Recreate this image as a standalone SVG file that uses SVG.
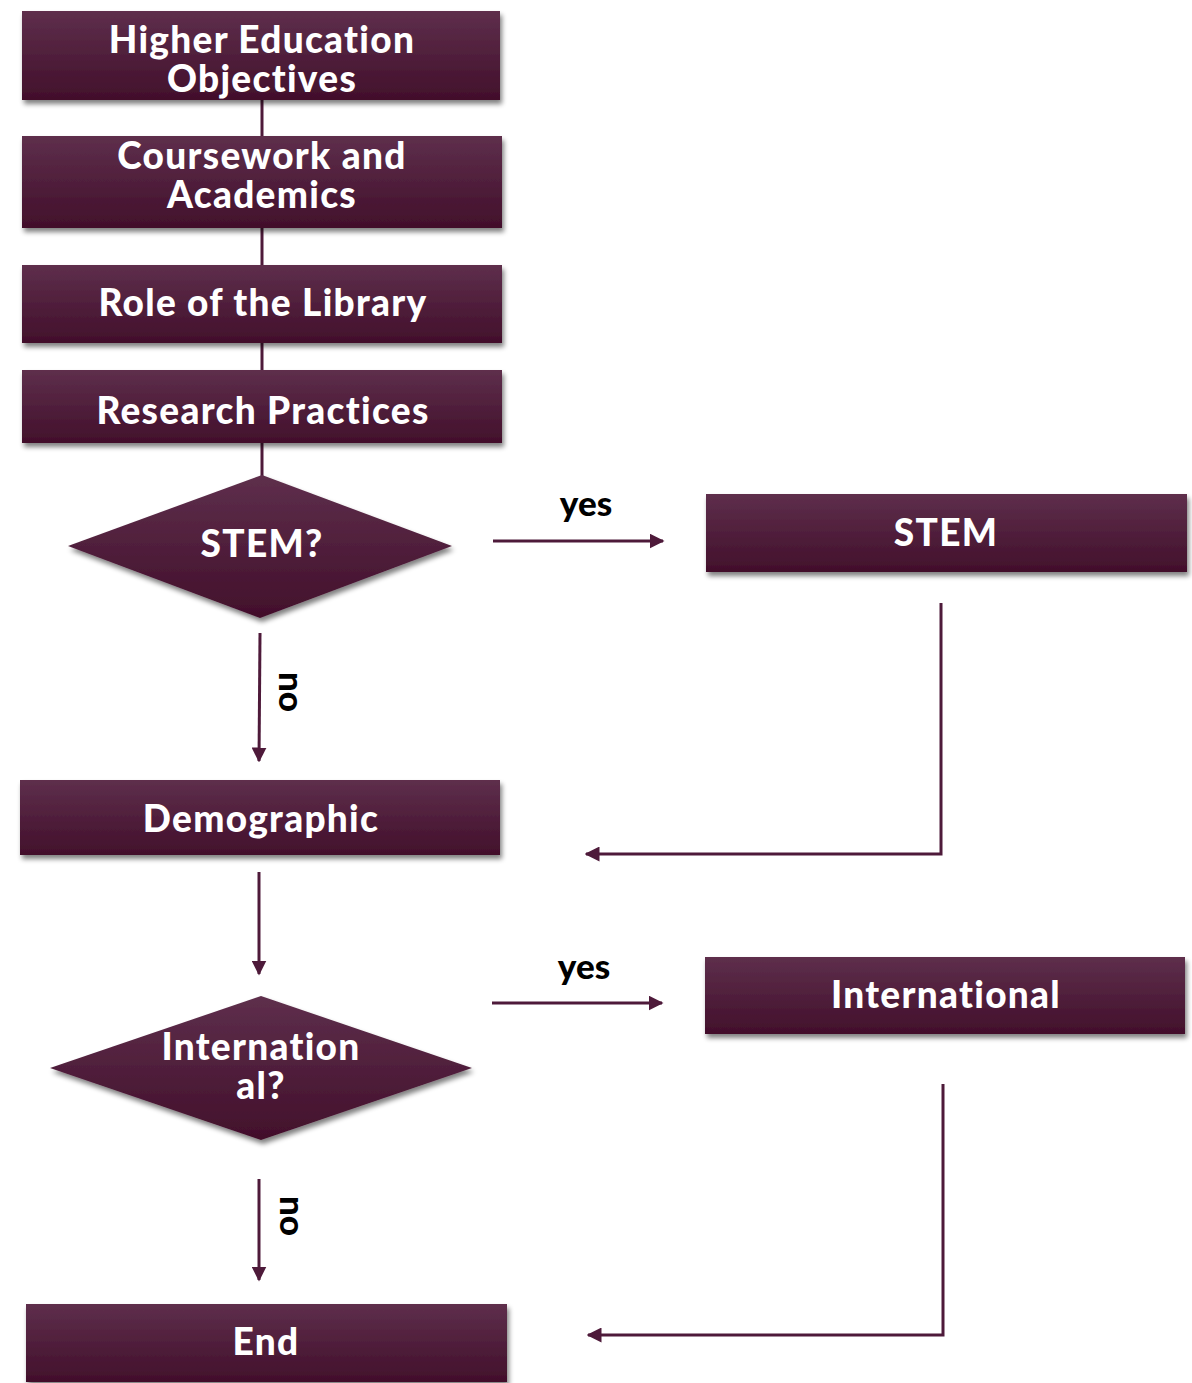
<svg xmlns="http://www.w3.org/2000/svg" width="1192" height="1383" viewBox="0 0 1192 1383">
<defs>
<linearGradient id="g" x1="0" y1="0" x2="0" y2="1">
<stop offset="0" stop-color="#5e2f4c"/>
<stop offset="1" stop-color="#420f2b"/>
</linearGradient>
<filter id="sh" x="-10%" y="-10%" width="125%" height="140%">
<feGaussianBlur in="SourceAlpha" stdDeviation="2.5"/>
<feOffset dx="2" dy="4" result="b"/>
<feComponentTransfer><feFuncA type="linear" slope="0.5"/></feComponentTransfer>
<feMerge><feMergeNode/><feMergeNode in="SourceGraphic"/></feMerge>
</filter>
<marker id="ah" viewBox="0 0 10 10" refX="9" refY="5" markerWidth="5" markerHeight="5" orient="auto" markerUnits="strokeWidth">
<path d="M0,0 L10,5 L0,10 z" fill="#4e1a3a"/>
</marker>
</defs>
<style>
.box{fill:url(#g);filter:url(#sh)}
.t{font-family:Lato,"Open Sans","Liberation Sans",sans-serif;font-weight:900;font-size:37px;letter-spacing:1.3px;fill:#fff;text-anchor:middle}
.lbl{font-family:Lato,"Open Sans","Liberation Sans",sans-serif;font-weight:900;font-size:35px;fill:#000;text-anchor:middle}
.ln{stroke:#4e1a3a;stroke-width:3;fill:none}
.ar{stroke:#4e1a3a;stroke-width:3;fill:none;marker-end:url(#ah)}
</style>
<rect width="1192" height="1383" fill="#fff"/>
<g id="connectors">
<line class="ln" x1="262" y1="100" x2="262" y2="136"/>
<line class="ln" x1="262" y1="228" x2="262" y2="265"/>
<line class="ln" x1="262" y1="343" x2="262" y2="370"/>
<line class="ln" x1="262" y1="443" x2="262" y2="476"/>
<line class="ar" x1="493" y1="541" x2="663" y2="541"/>
<text class="lbl" x="586" y="516">yes</text>
<line class="ar" x1="260" y1="633" x2="259" y2="761"/>
<text class="lbl" transform="translate(279,692) rotate(90)">no</text>
<polyline class="ar" points="941,603 941,854 586,854"/>
<line class="ar" x1="259" y1="872" x2="259" y2="974"/>
<line class="ar" x1="492" y1="1003" x2="662" y2="1003"/>
<text class="lbl" x="584" y="979">yes</text>
<line class="ar" x1="259" y1="1179" x2="259" y2="1280"/>
<text class="lbl" transform="translate(280,1216) rotate(90)">no</text>
<polyline class="ar" points="943,1084 943,1335 588,1335"/>
</g>
<g id="n1"><rect class="box" x="22" y="11" width="478" height="89"/><text class="t" x="262" y="53">Higher Education</text><text class="t" x="262" y="92">Objectives</text></g>
<g id="n2"><rect class="box" x="22" y="136" width="480" height="92"/><text class="t" x="262" y="169">Coursework and</text><text class="t" x="262" y="208">Academics</text></g>
<g id="n3"><rect class="box" x="22" y="265" width="480" height="78"/><text class="t" x="263" y="316">Role of the Library</text></g>
<g id="n4"><rect class="box" x="22" y="370" width="480" height="73"/><text class="t" x="263" y="424">Research Practices</text></g>
<g id="d1"><polygon class="box" points="262,475 452,546 260,618 68,546"/><text class="t" x="262" y="557">STEM?</text></g>
<g id="n5"><rect class="box" x="706" y="494" width="481" height="78"/><text class="t" x="946" y="546">STEM</text></g>
<g id="n6"><rect class="box" x="20" y="780" width="480" height="75"/><text class="t" x="261" y="832">Demographic</text></g>
<g id="d2"><polygon class="box" points="261,996 472,1068 261,1140 50,1068"/><text class="t" x="261" y="1060">Internation</text><text class="t" x="261" y="1099">al?</text></g>
<g id="n7"><rect class="box" x="705" y="957" width="480" height="77"/><text class="t" x="946" y="1008">International</text></g>
<g id="n8"><rect class="box" x="26" y="1304" width="481" height="78"/><text class="t" x="266" y="1355">End</text></g>
</svg>
